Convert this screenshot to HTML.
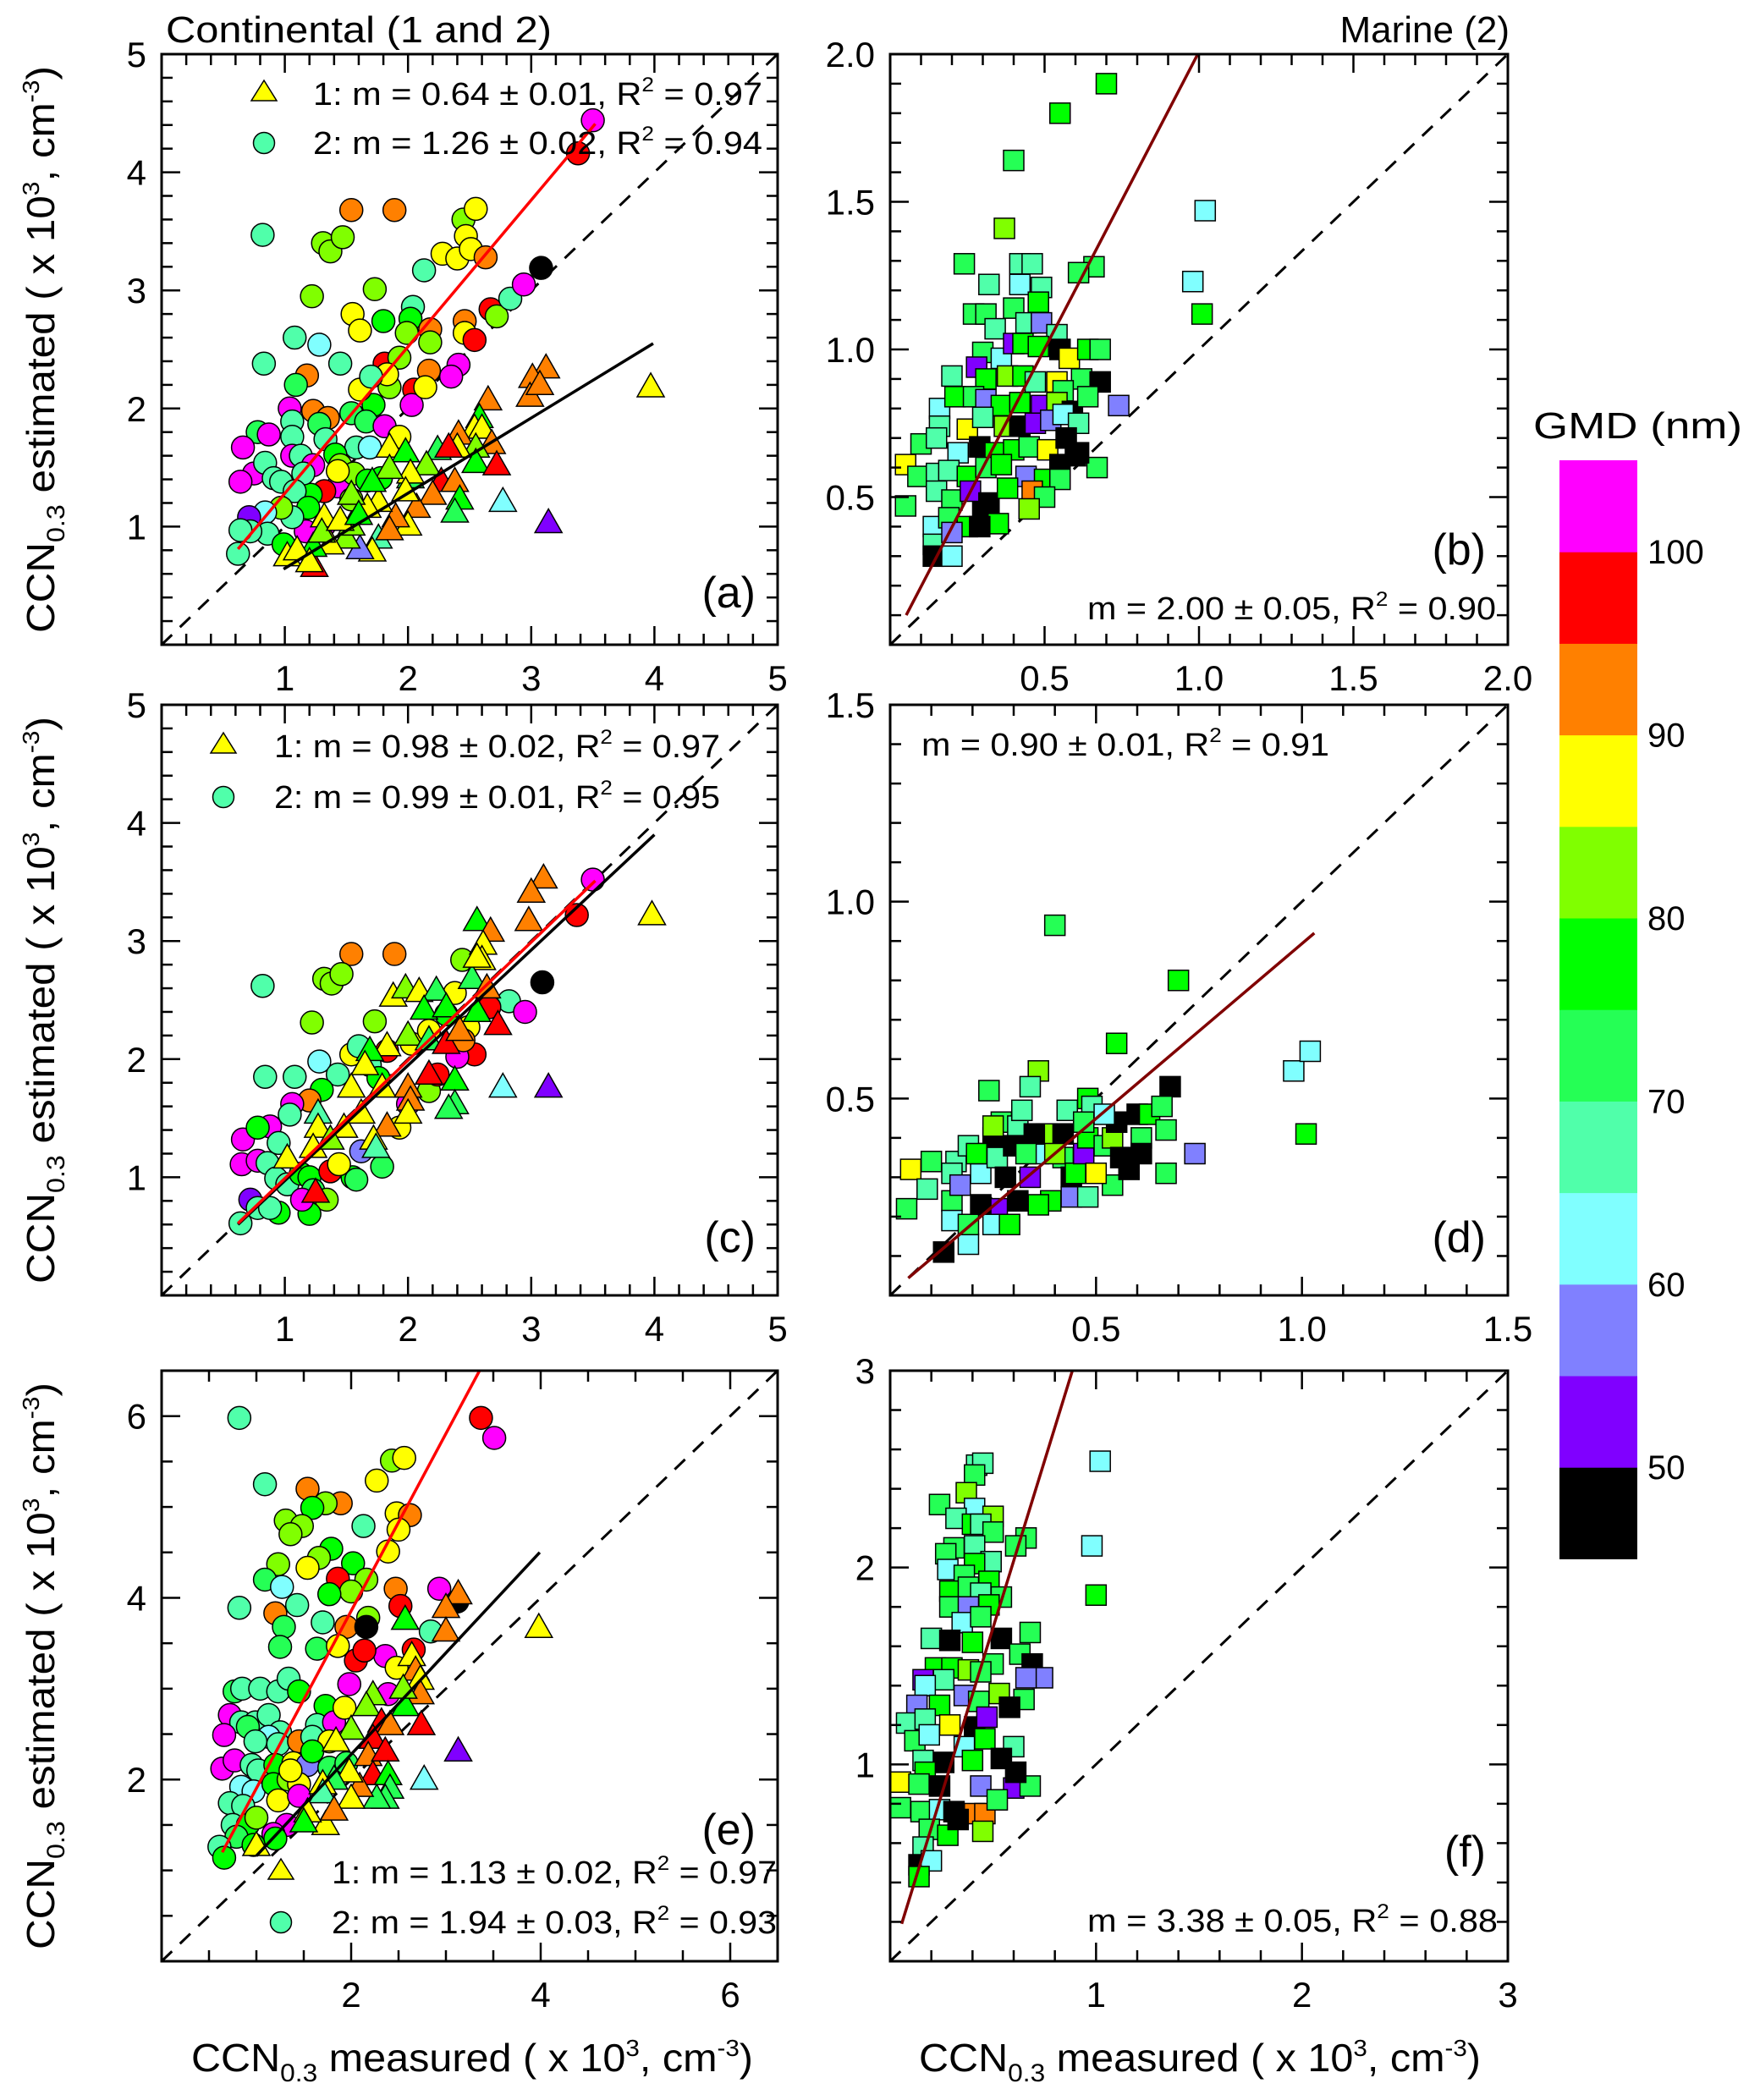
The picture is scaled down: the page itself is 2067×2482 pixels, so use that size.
<!DOCTYPE html>
<html><head><meta charset="utf-8"><style>
html,body{margin:0;padding:0;background:#fff;}
svg{display:block;font-family:"Liberation Sans",sans-serif;}
</style></head><body>
<svg id="chart" xmlns="http://www.w3.org/2000/svg" width="2067" height="2482" viewBox="0 0 2067 2482">
<rect x="0" y="0" width="2067" height="2482" fill="#fff"/>
<text x="196" y="50" font-size="44" textLength="456" lengthAdjust="spacingAndGlyphs">Continental (1 and 2)</text>
<text x="1784" y="50" font-size="44" text-anchor="end">Marine (2)</text>
<g id="panels"></g>
<g id="colorbar"></g>
<text x="1812" y="518" font-size="44" textLength="247" lengthAdjust="spacingAndGlyphs">GMD (nm)</text>
</svg>
<script>
// ---------- colour scale (GMD, nm) ----------
const gmdBandColors = ['#000000','#8000FF','#8080FF','#80FFFF','#50FFAA','#25FF55','#00FF00','#80FF00','#FFFF00','#FF8000','#FF0000','#FF00FF'];
const gmdBandLabels = [50,60,70,80,90,100];

// ---------- panel (a) ----------
const a_circ_x = [0.82,1.54,1.89,1.31,1.37,1.47,1.22,1.73,1.55,1.61, 1.08,1.28,0.83,1.18,1.09,1.45,2.04,1.80,2.02,1.99, 2.18,2.18,2.13,2.45,2.55,2.47,2.28,2.40,2.51,2.63, 2.46,2.46,2.54,2.67,2.72,2.83,2.94,3.08,2.41,2.35, 3.38,3.50,1.81,1.93,2.05,2.03,2.17,2.14,1.85,1.72, 1.61,1.83,1.70,1.54,1.66,1.81,1.93,1.58,1.69,1.23, 1.35,1.28,1.04,1.06,1.06,1.06,0.78,0.87,0.66,0.75, 0.64,0.84,0.91,0.97,1.13,1.23,1.33,1.41,1.45,1.43, 1.32,1.21,1.15,1.08,1.19,1.32,1.17,1.06,0.97,0.84, 0.86,0.71,0.72,0.64,0.62,0.99,1.56,1.67,1.78,1.54, 1.43];
const a_circ_y = [3.47,3.68,3.68,3.40,3.33,3.45,2.95,3.01,2.80,2.66, 2.60,2.54,2.38,2.28,2.20,2.38,2.86,2.74,2.76,2.64, 2.67,2.56,3.17,3.60,3.69,3.46,3.31,3.27,3.35,3.28, 2.74,2.64,2.58,2.84,2.78,2.93,3.05,3.19,2.37,2.27, 4.16,4.44,2.38,2.43,2.16,2.03,2.32,2.18,2.18,2.03, 2.16,2.29,2.27,1.96,1.89,1.85,1.76,1.67,1.67,1.98, 1.92,1.87,2.00,1.89,1.76,1.60,1.80,1.78,1.67,1.45, 1.38,1.54,1.41,1.38,1.60,1.52,1.74,1.61,1.52,1.34, 1.30,1.27,1.45,1.30,1.16,1.01,0.96,1.08,1.16,1.12, 0.94,1.08,0.96,0.97,0.77,0.85,1.45,1.39,1.41,1.23, 1.47];
const a_circ_gmd = [67,92,92,82,82,82,82,82,87,87, 67,62,67,92,72,67,67,77,77,82, 92,82,67,82,87,87,87,87,87,92, 92,87,97,97,82,67,102,47,102,102, 97,102,97,82,97,102,92,87,82,77, 87,87,67,72,72,102,87,67,62,92, 92,72,102,67,67,102,72,102,102,102, 102,67,67,67,67,102,67,77,82,102, 97,77,67,67,77,102,102,67,82,62, 67,52,67,67,67,77,82,77,77,82, 87];
const a_tri_x = [3.97,3.12,3.01,2.99,3.07,2.65,2.58,2.54,2.60,2.41, 2.68,2.55,2.55,2.72,2.40,2.24,2.15,2.02,2.33,2.27, 2.38,2.42,2.38,2.20,2.07,2.00,1.90,1.76,2.77,3.14, 1.24,1.85,1.98,2.02,1.85,1.71,1.76,1.71,1.61,1.50, 1.37,1.23,1.02,1.85,1.54,1.32,1.67,1.54,1.98,1.10, 1.30,1.45,1.60,1.20];
const a_tri_y = [2.18,2.34,2.26,2.10,2.20,2.07,1.92,1.83,1.83,1.78, 1.70,1.67,1.54,1.52,1.67,1.65,1.52,1.41,1.67,1.38, 1.38,1.23,1.12,1.27,1.16,1.01,1.08,1.21,1.21,1.03, 0.66,1.67,1.63,1.45,1.49,1.38,0.90,0.79,0.81,0.90, 0.85,0.83,0.75,0.97,1.01,1.08,1.16,1.27,1.30,0.80, 0.95,1.05,1.10,0.70];
const a_tri_gmd = [87,92,92,92,92,92,77,87,87,92, 92,82,77,97,87,72,82,72,97,97, 92,77,72,92,92,87,92,87,62,52, 97,87,77,87,82,77,67,87,57,82, 87,77,87,92,82,87,87,82,87,87, 82,87,77,87];
const a_fit_circ_x = [0.62,3.52], a_fit_circ_y = [0.81,4.41];
const a_fit_tri_x = [0.99,3.99], a_fit_tri_y = [0.64,2.55];

// ---------- panel (c) ----------
const c_circ_x = [0.82,1.54,1.89,1.32,1.38,1.46,1.22,1.73,1.28,0.84, 1.08,1.43,2.44,2.82,2.95,3.09,3.37,3.50,2.66,2.54, 2.40,2.49,2.45,1.54,1.60,1.69,1.76,1.30,1.20,1.06, 1.04,0.66,0.65,0.78,0.88,0.95,0.86,0.93,1.02,0.78, 1.13,1.20,1.23,1.34,1.37,1.20,1.55,1.58,1.79,0.72, 0.78,0.95,0.88,0.64,1.14,1.44,1.62,1.93,2.00,2.17, 2.24,1.83,2.03,2.17,2.31,2.38];
const c_circ_y = [2.62,2.89,2.89,2.68,2.64,2.72,2.31,2.32,1.98,1.85, 1.85,1.87,2.84,2.49,2.40,2.65,3.22,3.52,2.44,2.04, 2.02,2.27,2.16,2.04,2.11,1.95,1.84,1.74,1.65,1.62, 1.53,1.32,1.11,1.14,1.43,1.29,1.12,0.99,0.94,1.42, 1.03,1.00,0.89,0.81,1.05,0.69,1.00,0.98,1.09,0.81, 0.74,0.70,0.74,0.61,0.81,1.11,1.22,1.42,1.62,1.73, 1.87,2.07,2.13,2.24,2.38,2.56];
const c_circ_gmd = [67,92,92,82,82,82,82,82,62,67, 67,67,82,67,102,47,97,102,97,97, 102,87,92,87,67,67,77,77,92,102, 67,102,102,102,102,67,67,67,67,77, 77,77,72,82,97,77,77,72,72,52, 67,77,67,67,102,87,57,87,102,82, 97,97,87,87,77,87];
const c_tri_x = [3.98,3.10,3.00,2.98,2.56,2.67,2.61,2.60,2.52,2.64, 2.56,2.73,2.77,3.14,1.88,1.98,2.09,2.23,2.13,2.31, 2.56,2.00,2.17,2.31,2.42,1.83,1.69,1.65,1.54,1.79, 2.00,2.17,2.02,2.38,2.38,2.33,1.27,1.27,1.02,1.23, 1.62,1.48,1.83,2.00,1.72,1.37,1.25,1.74];
const c_tri_y = [3.22,3.53,3.41,3.17,3.17,3.08,2.97,2.84,2.68,2.60, 2.86,2.29,1.76,1.76,2.53,2.60,2.57,2.58,2.42,2.44, 2.40,2.20,2.16,2.13,2.24,2.11,2.07,1.95,1.76,1.76, 1.76,1.87,1.65,1.82,1.62,1.58,1.54,1.42,1.16,1.25, 1.54,1.42,1.43,1.54,1.32,1.32,0.87,1.25];
const c_tri_gmd = [87,92,92,92,77,92,87,87,72,92, 87,97,62,52,87,82,87,72,77,77, 77,82,72,97,92,87,77,87,87,87, 92,97,92,77,72,72,67,87,87,87, 87,87,92,87,87,82,97,67];
const c_fit_circ_x = [0.62,3.52], c_fit_circ_y = [0.61,3.51];
const c_fit_tri_x = [0.62,4.00], c_fit_tri_y = [0.60,3.90];

// ---------- panel (e) ----------
const e_circ_x = [0.82,1.09,1.54,1.89,1.73,1.59,1.31,1.48,1.36,2.13, 2.43,2.56,2.27,2.48,2.62,2.50,2.39,3.37,3.51,1.79, 1.66,1.23,1.09,1.54,2.02,2.16,1.86,2.00,1.77,1.27, 1.43,1.20,1.29,1.25,0.82,1.70,1.95,2.18,2.47,2.52, 2.16,2.93,3.12,2.84,2.66,2.36,1.64,1.86,2.05,2.14, 2.48,1.98,2.39,0.77,0.85,1.04,1.23,1.34,1.45,0.72, 0.84,0.99,1.13,1.25,1.13,1.73,1.64,1.82,1.93,0.66, 0.91,0.99,1.23,1.45,1.59,1.77,0.64,0.77,0.95,1.02, 1.20,1.39,1.54,1.77,1.59,1.95,0.84,0.97,1.18,1.34, 1.45,1.23,1.45,1.36,0.72,0.86,0.75,0.91,1.00,0.79, 1.32,1.18,1.20,0.97,0.61,0.66];
const e_circ_y = [5.98,5.25,5.20,5.04,5.04,4.99,4.85,4.79,4.70,4.79, 5.51,5.54,5.29,4.93,4.91,4.75,4.51,5.98,5.76,4.54, 4.44,4.37,4.20,4.33,4.38,4.20,4.21,4.07,4.04,4.12, 3.92,3.83,3.68,3.46,3.89,3.73,3.68,3.78,4.10,3.91, 3.68,4.10,3.96,3.63,3.43,3.36,3.44,3.47,3.31,3.42, 3.23,3.05,2.94,2.97,3.00,3.00,2.97,3.11,2.97,2.71, 2.63,2.63,2.71,2.52,2.47,2.81,2.60,2.63,2.79,2.49, 2.58,2.42,2.39,2.42,2.47,2.42,2.12,2.21,2.16,2.10, 2.16,2.18,2.16,2.13,2.31,2.18,1.92,1.87,1.95,2.00, 1.95,1.77,1.82,2.10,1.74,1.71,1.50,1.50,1.58,1.37, 1.50,1.40,1.35,1.28,1.26,1.14];
const e_circ_gmd = [67,67,92,92,82,77,82,82,82,67, 82,87,87,87,92,87,87,97,102,77, 82,82,72,87,77,82,97,82,77,62, 67,92,72,72,67,67,92,82,92,97, 47,102,47,67,97,102,72,87,97,97, 87,102,102,72,67,67,67,67,77,102, 67,67,67,67,62,77,67,102,87,102, 72,67,67,92,67,87,102,102,67,67, 77,87,57,72,77,72,62,62,77,82, 87,87,102,87,67,67,67,77,82,72, 102,102,77,77,67,77];
const e_tri_x = [3.98,3.13,3.00,3.00,2.57,2.64,2.68,2.73,2.73,2.57, 2.55,2.74,3.13,2.77,2.23,2.16,2.32,2.41,2.23,2.00, 1.84,2.18,2.36,2.23,2.39,2.41,2.36,2.27,2.09,2.00, 1.98,1.82,1.70,1.70,1.73,1.82,1.54,1.50,1.00];
const e_tri_y = [3.67,4.04,3.89,3.63,3.76,3.36,3.20,3.10,2.94,2.81, 3.00,2.60,2.31,2.00,2.93,2.81,2.63,2.60,2.45,2.55, 2.42,2.26,2.31,2.05,2.05,1.90,1.79,1.79,1.92,1.79, 2.08,2.00,1.95,1.85,1.50,1.66,1.64,1.53,1.27];
const e_tri_gmd = [87,92,92,92,77,87,92,87,92,77, 82,97,52,62,82,82,97,92,97,82, 87,92,97,97,77,72,72,72,92,87, 87,72,87,67,87,92,87,77,87];
const e_fit_circ_x = [0.64,3.36], e_fit_circ_y = [1.20,6.51];
const e_fit_tri_x = [1.00,3.99], e_fit_tri_y = [1.16,4.50];

// ---------- panel (b) ----------
const b_sq_x = [0.70,0.55,0.40,0.37,1.02,0.98,1.01,0.74,0.67,0.66, 0.61,0.24,0.32,0.42,0.46,0.42,0.49,0.40,0.48,0.27, 0.31,0.34,0.44,0.49,0.54,0.30,0.36,0.40,0.43,0.48, 0.55,0.58,0.64,0.68,0.20,0.28,0.31,0.38,0.43,0.47, 0.54,0.62,0.68,0.56,0.16,0.21,0.27,0.31,0.36,0.42, 0.49,0.54,0.59,0.64,0.16,0.25,0.30,0.37,0.42,0.47, 0.52,0.56,0.61,0.10,0.15,0.22,0.29,0.34,0.40,0.45, 0.51,0.57,0.61,0.05,0.09,0.15,0.19,0.25,0.31,0.36, 0.44,0.50,0.55,0.60,0.55,0.05,0.15,0.20,0.26,0.32, 0.38,0.46,0.50,0.45,0.14,0.19,0.25,0.30,0.35,0.29, 0.14,0.20,0.14,0.20];
const b_sq_y = [1.90,1.80,1.64,1.41,1.47,1.23,1.12,0.81,0.60,1.28, 1.26,1.29,1.22,1.29,1.29,1.22,1.21,1.14,1.16,1.12, 1.12,1.07,1.09,1.09,1.05,0.99,0.97,1.02,1.02,1.01, 1.00,0.97,1.00,1.00,0.91,0.94,0.90,0.91,0.91,0.89, 0.89,0.90,0.89,0.86,0.80,0.84,0.84,0.83,0.81,0.82, 0.81,0.82,0.79,0.84,0.74,0.73,0.77,0.74,0.74,0.75, 0.76,0.78,0.75,0.68,0.70,0.65,0.67,0.65,0.66,0.67, 0.66,0.70,0.65,0.61,0.57,0.58,0.59,0.57,0.60,0.61, 0.57,0.56,0.61,0.64,0.56,0.47,0.52,0.49,0.52,0.48, 0.53,0.52,0.50,0.46,0.40,0.43,0.40,0.45,0.41,0.40, 0.34,0.38,0.30,0.30];
const b_sq_gmd = [77,77,72,82,62,62,77,57,72,72, 72,72,67,67,67,62,67,72,77,72, 72,67,67,57,67,72,62,52,77,77, 47,87,77,72,67,52,77,82,77,67, 87,72,47,72,62,77,72,57,77,77, 52,82,47,72,67,87,67,82,47,52, 57,62,67,72,67,62,47,77,77,72, 87,47,47,87,72,67,67,77,72,77, 57,77,47,47,72,72,67,72,52,47, 77,92,72,82,62,72,77,47,77,47, 67,57,47,62];
const b_fit_x = [0.052,0.996], b_fit_y = [0.10,2.00];

// ---------- panel (d) ----------
const d_sq_x = [0.40,0.70,0.55,0.36,0.24,0.34,0.68,0.98,1.02,1.01, 0.74,0.67,0.54,0.05,0.04,0.10,0.09,0.16,0.15,0.15, 0.13,0.19,0.15,0.22,0.22,0.19,0.25,0.26,0.27,0.25, 0.31,0.32,0.30,0.28,0.34,0.36,0.39,0.36,0.31,0.26, 0.22,0.19,0.25,0.29,0.38,0.42,0.43,0.42,0.40,0.44, 0.45,0.47,0.48,0.48,0.49,0.44,0.48,0.50,0.52,0.54, 0.55,0.56,0.58,0.60,0.61,0.63,0.66,0.67,0.61,0.52, 0.47,0.35,0.33,0.21,0.17];
const d_sq_y = [0.94,0.80,0.64,0.57,0.52,0.53,0.53,0.57,0.62,0.41, 0.36,0.31,0.28,0.32,0.22,0.34,0.27,0.34,0.31,0.24, 0.11,0.13,0.19,0.31,0.36,0.38,0.40,0.35,0.44,0.43, 0.43,0.47,0.38,0.30,0.30,0.36,0.24,0.23,0.24,0.22, 0.23,0.18,0.18,0.18,0.41,0.41,0.47,0.35,0.36,0.30, 0.31,0.36,0.40,0.50,0.48,0.25,0.25,0.31,0.38,0.40, 0.44,0.35,0.32,0.46,0.40,0.46,0.48,0.42,0.36,0.46, 0.44,0.41,0.36,0.36,0.28];
const d_sq_gmd = [72,77,77,82,72,67,47,62,62,77, 57,72,72,87,72,72,67,67,67,72, 47,62,62,62,77,67,47,67,72,82, 67,67,47,47,52,62,77,77,47,52, 47,72,62,77,82,47,67,72,82,47, 77,52,77,77,67,57,67,87,72,82, 47,47,47,47,72,77,72,72,47,62, 72,47,72,77,57];
const d_fit_x = [0.044,1.03], d_fit_y = [0.044,0.92];

// ---------- panel (f) ----------
const f_sq_x = [1.02,0.98,1.00,0.42,0.45,0.41,0.37,0.24,0.41,0.50, 0.32,0.40,0.44,0.50,0.66,0.61,0.31,0.41,0.27,0.49, 0.41,0.28,0.36,0.48,0.29,0.38,0.54,0.44,0.29,0.38, 0.48,0.35,0.44,0.68,0.20,0.29,0.40,0.54,0.63,0.50, 0.69,0.22,0.30,0.38,0.16,0.74,0.66,0.44,0.26,0.17, 0.36,0.53,0.65,0.13,0.24,0.43,0.58,0.08,0.17,0.29, 0.41,0.47,0.12,0.19,0.36,0.46,0.60,0.16,0.26,0.40, 0.54,0.17,0.05,0.14,0.24,0.44,0.60,0.68,0.61,0.05, 0.15,0.24,0.31,0.41,0.46,0.52,0.19,0.28,0.45,0.33, 0.16,0.14,0.20,0.14];
const f_sq_y = [2.54,2.11,1.86,2.52,2.53,2.47,2.38,2.32,2.30,2.26, 2.25,2.22,2.22,2.18,2.15,2.11,2.10,2.11,2.07,2.03, 2.02,1.99,1.96,1.93,1.88,1.90,1.85,1.87,1.80,1.80, 1.81,1.72,1.75,1.67,1.64,1.63,1.62,1.64,1.56,1.51, 1.51,1.49,1.49,1.48,1.43,1.44,1.44,1.47,1.43,1.40, 1.35,1.36,1.33,1.30,1.30,1.32,1.29,1.21,1.23,1.20, 1.19,1.24,1.12,1.15,1.09,1.13,1.09,1.02,1.01,1.02, 1.03,0.96,0.91,0.90,0.89,0.89,0.88,0.89,0.96,0.78, 0.76,0.77,0.76,0.75,0.75,0.82,0.67,0.64,0.66,0.72, 0.58,0.49,0.51,0.43];
const f_sq_gmd = [62,62,77,67,67,72,82,72,62,82, 67,77,67,72,72,72,72,67,72,67, 77,62,72,77,77,72,72,67,72,57, 77,62,72,72,67,47,77,47,72,72, 47,77,77,82,52,57,57,72,67,62, 57,82,72,57,77,72,47,67,67,87, 47,52,72,62,62,77,67,67,47,77, 47,77,87,72,47,57,52,72,47,72, 72,62,47,92,92,72,72,77,82,47, 67,47,62,77];
const f_fit_x = [0.056,0.885], f_fit_y = [0.19,3.00];

// ---------- axis tick labels ----------
const ticks_a = ['1','2','3','4','5'];
const ticks_b = ['0.5','1.0','1.5','2.0'];
const ticks_d = ['0.5','1.0','1.5'];
const ticks_e = ['2','4','6'];
const ticks_f = ['1','2','3'];

const NS = 'http://www.w3.org/2000/svg';
function mk(tag, attrs, parent){
  const e = document.createElementNS(NS, tag);
  for (const k in attrs) e.setAttribute(k, attrs[k]);
  parent.appendChild(e);
  return e;
}
function gmdColor(g){
  const i = Math.min(11, Math.max(0, Math.floor((g - 45) / 5)));
  return gmdBandColors[i];
}

const panelsG = document.getElementById('panels');

function buildPanel(p){
  const g = mk('g', {}, panelsG);
  
  
  const sx = v => p.L + v / p.xmax * (p.R - p.L);
  const sy = v => p.B - v / p.ymax * (p.B - p.T);
  const cp = mk('clipPath', {id: 'clip-' + p.id}, g);
  mk('rect', {x: p.L, y: p.T, width: p.R - p.L, height: p.B - p.T}, cp);
  const plot = mk('g', {'clip-path': 'url(#clip-' + p.id + ')'}, g);
  
  

  const m = Math.min(p.xmax, p.ymax);
  const dl = mk('line', {x1: sx(0), y1: sy(0), x2: sx(m), y2: sy(m), stroke: '#000', 'stroke-width': 3, 'stroke-dasharray': '17 13'}, plot);
  
  

  (p.series || []).forEach(s => {
    const sg = mk('g', {}, plot);
    
    
    for (let i = 0; i < s.x.length; i++){
      const cx = sx(s.x[i]), cy = sy(s.y[i]), col = gmdColor(s.g[i]);
      let e;
      if (s.shape === 'circle'){
        e = mk('circle', {cx: cx, cy: cy, r: 13.5, fill: col, stroke: '#000', 'stroke-width': 1.5}, sg);
      } else if (s.shape === 'tri'){
        const h = 27, w = 16;
        e = mk('polygon', {points: cx + ',' + (cy - h*0.62) + ' ' + (cx + w) + ',' + (cy + h*0.42) + ' ' + (cx - w) + ',' + (cy + h*0.42), fill: col, stroke: '#000', 'stroke-width': 1.5}, sg);
      } else {
        e = mk('rect', {x: cx - 12, y: cy - 12, width: 24, height: 24, fill: col, stroke: '#000', 'stroke-width': 1.5}, sg);
      }
      
      
    }
  });

  (p.fits || []).forEach(f => {
    const ln = mk('line', {x1: sx(f.x[0]), y1: sy(f.y[0]), x2: sx(f.x[1]), y2: sy(f.y[1]), stroke: f.color, 'stroke-width': 3.5}, plot);
    
    
  });

  const fr = mk('rect', {x: p.L, y: p.T, width: p.R - p.L, height: p.B - p.T, fill: 'none', stroke: '#000', 'stroke-width': 3}, g);
  
  

  const tg = mk('g', {stroke: '#000', 'stroke-width': 2.5}, g);
  
  
  const nx = Math.round(p.xmax / p.xminor);
  for (let i = 1; i < nx; i++){
    const v = i * p.xminor;
    const major = Math.abs(v / p.xmajor - Math.round(v / p.xmajor)) < 1e-6;
    const len = major ? 22 : 13;
    mk('line', {x1: sx(v), y1: p.B, x2: sx(v), y2: p.B - len}, tg);
    mk('line', {x1: sx(v), y1: p.T, x2: sx(v), y2: p.T + len}, tg);
  }
  const ny = Math.round(p.ymax / p.yminor);
  for (let i = 1; i < ny; i++){
    const v = i * p.yminor;
    const major = Math.abs(v / p.ymajor - Math.round(v / p.ymajor)) < 1e-6;
    const len = major ? 22 : 13;
    mk('line', {x1: p.L, y1: sy(v), x2: p.L + len, y2: sy(v)}, tg);
    mk('line', {x1: p.R, y1: sy(v), x2: p.R - len, y2: sy(v)}, tg);
  }

  p.labels.forEach(lbl => {
    const v = parseFloat(lbl);
    const tx = mk('text', {x: sx(v), y: p.B + 54, 'font-size': 42, 'text-anchor': 'middle'}, g);
    tx.textContent = lbl;
    
    
    const ty = mk('text', {x: p.L - 18, y: sy(v) + 15, 'font-size': 42, 'text-anchor': 'end'}, g);
    ty.textContent = lbl;
    
    
  });

  const pl = mk('text', {x: p.R - 26, y: p.letterY, 'font-size': 52, 'text-anchor': 'end'}, g);
  pl.textContent = '(' + p.id + ')';
  
  
}

const colL = {L: 191, R: 919}, colR = {L: 1052, R: 1782};
buildPanel({id:'a', L:colL.L, R:colL.R, T:64, B:762, xmax:5, ymax:5, xminor:0.2, yminor:0.2, xmajor:1, ymajor:1, labels:ticks_a, letterY:718,
  series:[{name:'circles-type-2', shape:'circle', x:a_circ_x, y:a_circ_y, g:a_circ_gmd},{name:'triangles-type-1', shape:'tri', x:a_tri_x, y:a_tri_y, g:a_tri_gmd}],
  fits:[{name:'fit-line-type-2', color:'#FF0000', x:a_fit_circ_x, y:a_fit_circ_y},{name:'fit-line-type-1', color:'#000', x:a_fit_tri_x, y:a_fit_tri_y}]});
buildPanel({id:'b', L:colR.L, R:colR.R, T:64, B:762, xmax:2, ymax:2, xminor:0.1, yminor:0.1, xmajor:0.5, ymajor:0.5, labels:ticks_b, letterY:667,
  series:[{name:'marine-squares', shape:'sq', x:b_sq_x, y:b_sq_y, g:b_sq_gmd}],
  fits:[{name:'fit-line', color:'#800000', x:b_fit_x, y:b_fit_y}]});
buildPanel({id:'c', L:colL.L, R:colL.R, T:833, B:1531, xmax:5, ymax:5, xminor:0.2, yminor:0.2, xmajor:1, ymajor:1, labels:ticks_a, letterY:1480,
  series:[{name:'circles-type-2', shape:'circle', x:c_circ_x, y:c_circ_y, g:c_circ_gmd},{name:'triangles-type-1', shape:'tri', x:c_tri_x, y:c_tri_y, g:c_tri_gmd}],
  fits:[{name:'fit-line-type-1', color:'#000', x:c_fit_tri_x, y:c_fit_tri_y},{name:'fit-line-type-2', color:'#FF0000', x:c_fit_circ_x, y:c_fit_circ_y}]});
buildPanel({id:'d', L:colR.L, R:colR.R, T:833, B:1531, xmax:1.5, ymax:1.5, xminor:0.1, yminor:0.1, xmajor:0.5, ymajor:0.5, labels:ticks_d, letterY:1480,
  series:[{name:'marine-squares', shape:'sq', x:d_sq_x, y:d_sq_y, g:d_sq_gmd}],
  fits:[{name:'fit-line', color:'#800000', x:d_fit_x, y:d_fit_y}]});
buildPanel({id:'e', L:colL.L, R:colL.R, T:1620, B:2318, xmax:6.5, ymax:6.5, xminor:0.5, yminor:0.5, xmajor:2, ymajor:2, labels:ticks_e, letterY:2180,
  series:[{name:'circles-type-2', shape:'circle', x:e_circ_x, y:e_circ_y, g:e_circ_gmd},{name:'triangles-type-1', shape:'tri', x:e_tri_x, y:e_tri_y, g:e_tri_gmd}],
  fits:[{name:'fit-line-type-2', color:'#FF0000', x:e_fit_circ_x, y:e_fit_circ_y},{name:'fit-line-type-1', color:'#000', x:e_fit_tri_x, y:e_fit_tri_y}]});
buildPanel({id:'f', L:colR.L, R:colR.R, T:1620, B:2318, xmax:3, ymax:3, xminor:0.2, yminor:0.2, xmajor:1, ymajor:1, labels:ticks_f, letterY:2206,
  series:[{name:'marine-squares', shape:'sq', x:f_sq_x, y:f_sq_y, g:f_sq_gmd}],
  fits:[{name:'fit-line', color:'#800000', x:f_fit_x, y:f_fit_y}]});

const cb = document.getElementById('colorbar');
const cbTop = 544, cbBand = 108.2, cbX = 1843, cbW = 92;
for (let i = 0; i < gmdBandColors.length; i++){
  const r = mk('rect', {x: cbX, y: cbTop + (gmdBandColors.length - 1 - i) * cbBand, width: cbW, height: cbBand + 0.5, fill: gmdBandColors[i]}, cb);
  
  
}
gmdBandLabels.forEach((v, k) => {
  const boundary = 1 + 2 * k;
  const t = mk('text', {x: 1947, y: cbTop + (12 - boundary) * cbBand + 14, 'font-size': 40}, cb);
  t.textContent = v;
  
  
});
</script>
<svg style="position:absolute;left:0;top:0" width="2067" height="2482" xmlns="http://www.w3.org/2000/svg" font-family="Liberation Sans, sans-serif">
<g>
<polygon points="312,95 327,119 297,119" fill="#FFFF00" stroke="#000" stroke-width="1.5"/>
<circle cx="312" cy="169" r="12.5" fill="#50FFAA" stroke="#000" stroke-width="1.5"/>
<text x="370" y="124" font-size="38" textLength="531" lengthAdjust="spacingAndGlyphs">1: m = 0.64 ± 0.01, R<tspan font-size="24" dy="-16">2</tspan><tspan dy="16"> = 0.97</tspan></text>
<text x="370" y="182" font-size="38" textLength="531" lengthAdjust="spacingAndGlyphs">2: m = 1.26 ± 0.02, R<tspan font-size="24" dy="-16">2</tspan><tspan dy="16"> = 0.94</tspan></text>
</g>
<g>
<polygon points="264,866 279,890 249,890" fill="#FFFF00" stroke="#000" stroke-width="1.5"/>
<circle cx="264" cy="942" r="12.5" fill="#50FFAA" stroke="#000" stroke-width="1.5"/>
<text x="324" y="895" font-size="38" textLength="527" lengthAdjust="spacingAndGlyphs">1: m = 0.98 ± 0.02, R<tspan font-size="24" dy="-16">2</tspan><tspan dy="16"> = 0.97</tspan></text>
<text x="324" y="955" font-size="38" textLength="527" lengthAdjust="spacingAndGlyphs">2: m = 0.99 ± 0.01, R<tspan font-size="24" dy="-16">2</tspan><tspan dy="16"> = 0.95</tspan></text>
</g>
<g>
<polygon points="332,2197 347,2221 317,2221" fill="#FFFF00" stroke="#000" stroke-width="1.5"/>
<circle cx="332" cy="2272" r="12.5" fill="#50FFAA" stroke="#000" stroke-width="1.5"/>
<text x="392" y="2226" font-size="38" textLength="526" lengthAdjust="spacingAndGlyphs">1: m = 1.13 ± 0.02, R<tspan font-size="24" dy="-16">2</tspan><tspan dy="16"> = 0.97</tspan></text>
<text x="392" y="2285" font-size="38" textLength="526" lengthAdjust="spacingAndGlyphs">2: m = 1.94 ± 0.03, R<tspan font-size="24" dy="-16">2</tspan><tspan dy="16"> = 0.93</tspan></text>
</g>
<text x="1285" y="732" font-size="38" textLength="483" lengthAdjust="spacingAndGlyphs">m = 2.00 ± 0.05, R<tspan font-size="24" dy="-16">2</tspan><tspan dy="16"> = 0.90</tspan></text>
<text x="1089" y="893" font-size="38" textLength="482" lengthAdjust="spacingAndGlyphs">m = 0.90 ± 0.01, R<tspan font-size="24" dy="-16">2</tspan><tspan dy="16"> = 0.91</tspan></text>
<text x="1285" y="2283" font-size="38" textLength="485" lengthAdjust="spacingAndGlyphs">m = 3.38 ± 0.05, R<tspan font-size="24" dy="-16">2</tspan><tspan dy="16"> = 0.88</tspan></text>
<text transform="translate(64,413) rotate(-90)" font-size="46" text-anchor="middle" textLength="670" lengthAdjust="spacingAndGlyphs">CCN<tspan font-size="30" dy="12">0.3</tspan><tspan dy="-12"> estimated ( x 10</tspan><tspan font-size="28" dy="-18">3</tspan><tspan dy="18">, cm</tspan><tspan font-size="28" dy="-18">-3</tspan><tspan dy="18">)</tspan></text>
<text transform="translate(64,1182) rotate(-90)" font-size="46" text-anchor="middle" textLength="670" lengthAdjust="spacingAndGlyphs">CCN<tspan font-size="30" dy="12">0.3</tspan><tspan dy="-12"> estimated ( x 10</tspan><tspan font-size="28" dy="-18">3</tspan><tspan dy="18">, cm</tspan><tspan font-size="28" dy="-18">-3</tspan><tspan dy="18">)</tspan></text>
<text transform="translate(64,1969) rotate(-90)" font-size="46" text-anchor="middle" textLength="670" lengthAdjust="spacingAndGlyphs">CCN<tspan font-size="30" dy="12">0.3</tspan><tspan dy="-12"> estimated ( x 10</tspan><tspan font-size="28" dy="-18">3</tspan><tspan dy="18">, cm</tspan><tspan font-size="28" dy="-18">-3</tspan><tspan dy="18">)</tspan></text>
<text x="226" y="2448" font-size="46" textLength="664" lengthAdjust="spacingAndGlyphs">CCN<tspan font-size="30" dy="12">0.3</tspan><tspan dy="-12"> measured ( x 10</tspan><tspan font-size="28" dy="-18">3</tspan><tspan dy="18">, cm</tspan><tspan font-size="28" dy="-18">-3</tspan><tspan dy="18">)</tspan></text>
<text x="1086" y="2448" font-size="46" textLength="664" lengthAdjust="spacingAndGlyphs">CCN<tspan font-size="30" dy="12">0.3</tspan><tspan dy="-12"> measured ( x 10</tspan><tspan font-size="28" dy="-18">3</tspan><tspan dy="18">, cm</tspan><tspan font-size="28" dy="-18">-3</tspan><tspan dy="18">)</tspan></text>
</svg>
</body></html>
